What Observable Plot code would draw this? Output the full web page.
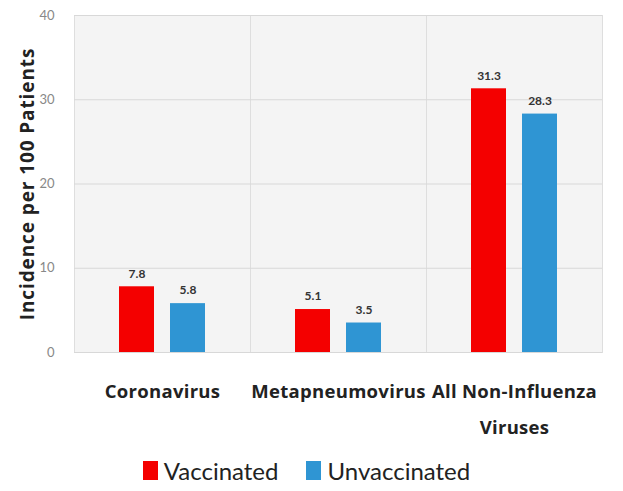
<!DOCTYPE html>
<html>
<head>
<meta charset="utf-8">
<script src="https://cdn.jsdelivr.net/npm/d3@7"></script>
<script src="https://cdn.jsdelivr.net/npm/@observablehq/plot@0.6"></script>
<style>
  body { margin: 0; background: #fff; font-family: Lato, "Open Sans", sans-serif; }
  #legend { display: flex; justify-content: center; gap: 28px; font-size: 24px; color: #222; margin-top: 8px; padding-right: 10px; }
  #legend span.item { display: flex; align-items: center; gap: 6px; }
  #legend span.sw { display: inline-block; width: 15px; height: 19px; }
</style>
</head>
<body>
<div id="chart"></div>
<div id="legend"></div>
<script>
const categories = ["Coronavirus", "Metapneumovirus", "All Non-Influenza Viruses"];
const categoryLabels = ["Coronavirus", "Metapneumovirus", "All Non-Influenza\nViruses"];
const groups = ["Vaccinated", "Unvaccinated"];
const vaccinated = [7.8, 5.1, 31.3];
const unvaccinated = [5.8, 3.5, 28.3];
const yTicks = [0, 10, 20, 30, 40];
const colors = ["#f40000", "#2f95d3"];
const yLabel = "Incidence per 100 Patients";

const data = [];
categories.forEach((c, i) => {
  data.push({category: c, group: groups[0], value: vaccinated[i]});
  data.push({category: c, group: groups[1], value: unvaccinated[i]});
});

const chart = Plot.plot({
  width: 623,
  height: 448,
  marginLeft: 74,
  marginRight: 21,
  marginTop: 15,
  marginBottom: 96,
  style: {fontFamily: "Lato, 'Open Sans', sans-serif", background: "#fff"},
  fx: {domain: categories, padding: 0},
  x: {domain: groups, axis: null, paddingInner: 0.31, paddingOuter: 0.88},
  y: {domain: [0, 40]},
  color: {domain: groups, range: colors},
  marks: [
    Plot.frame({fill: "#f4f4f4", stroke: "#dedede"}),
    Plot.gridY(yTicks, {stroke: "#d8d8d8", strokeOpacity: 1}),
    Plot.barY(data, {fx: "category", x: "group", y: "value", fill: "group"}),
    Plot.text(data, {fx: "category", x: "group", y: "value", text: d => d.value.toFixed(1), dy: -13, fontSize: 12, fontWeight: "bold", fill: "#333"}),
    Plot.axisY(yTicks, {tickSize: 0, tickPadding: 20, fontSize: 13, fill: "#888", label: yLabel, labelAnchor: "center", labelArrow: "none", labelOffset: 54}),
    Plot.axisFx({anchor: "bottom", tickSize: 0, tickPadding: 20, fontSize: 18, fontWeight: "bold", fill: "#222", label: null, lineHeight: 1.95, tickFormat: d => categoryLabels[categories.indexOf(d)]})
  ]
});
document.getElementById("chart").appendChild(chart);
const svg = d3.select(chart);
svg.selectAll("text").filter(function() { return this.textContent === yLabel; })
  .attr("font-weight", "bold").attr("fill", "#222")
  .style("font-size", "19px").style("font-weight", "bold").style("fill", "#222")
  .style("letter-spacing", "0.9px")
  .style("font-family", "'Open Sans', sans-serif");
svg.selectAll("[aria-label='fx-axis tick label'] text").style("font-size", "18.5px").style("font-family", "'Open Sans', sans-serif").style("letter-spacing", "0.3px");
svg.selectAll("[aria-label='y-axis tick label'] text").style("font-size", "13px");

const legend = document.getElementById("legend");
groups.forEach((g, i) => {
  const item = document.createElement("span");
  item.className = "item";
  const sw = document.createElement("span");
  sw.className = "sw";
  sw.style.background = colors[i];
  item.appendChild(sw);
  item.appendChild(document.createTextNode(g));
  legend.appendChild(item);
});
</script>
</body>
</html>
